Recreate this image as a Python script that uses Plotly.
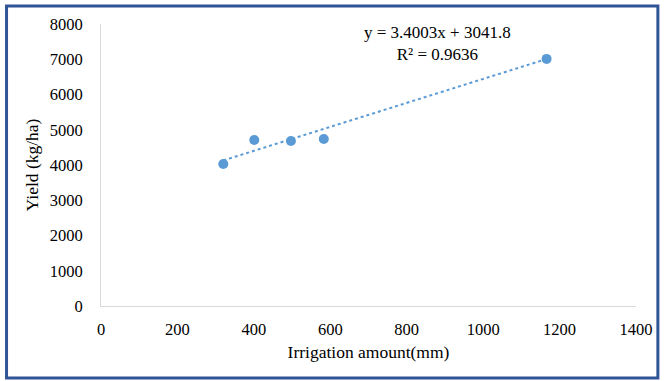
import plotly.graph_objects as go
import numpy as np

irrigation_mm = [320, 401, 497, 583, 1166]
yield_kg_ha = [4030, 4710, 4680, 4740, 7010]
slope = 3.4003
intercept = 3041.8
r_squared = 0.9636

x_ticks = [0, 200, 400, 600, 800, 1000, 1200, 1400]
y_ticks = [0, 1000, 2000, 3000, 4000, 5000, 6000, 7000, 8000]

FONT = "Liberation Serif"
BLUE = "#5B9BD5"
tick_font = dict(family=FONT, size=16.5, color="#000000")

fig = go.Figure()

trend_x = np.array([min(irrigation_mm), max(irrigation_mm)])
trend_y = slope * trend_x + intercept
fig.add_trace(go.Scatter(
    x=trend_x, y=trend_y, mode="lines",
    line=dict(color=BLUE, width=2, dash="dot"),
    hoverinfo="skip", showlegend=False,
))
fig.add_trace(go.Scatter(
    x=irrigation_mm, y=yield_kg_ha, mode="markers",
    marker=dict(color=BLUE, size=10),
    showlegend=False,
))

fig.add_annotation(
    x=880, y=7447, xref="x", yref="y",
    text=f"y = {slope:.4f}x + {intercept:.1f}<br>R² = {r_squared:.4f}",
    showarrow=False, align="center",
    font=dict(family=FONT, size=17, color="#000000"),
)

W, H = 665, 381
ml, mr, mt, mb = 101, 26, 24, 75
pw, ph = W - ml - mr, H - mt - mb

def px_to_paper_x(px):
    return (px - ml) / pw

def px_to_paper_y(py):
    return (H - mb - py) / ph

fig.add_shape(
    type="rect", xref="paper", yref="paper",
    x0=px_to_paper_x(6), x1=px_to_paper_x(661),
    y0=px_to_paper_y(378), y1=px_to_paper_y(6),
    line=dict(color="#2F5597", width=3),
    layer="below",
)

fig.update_layout(
    width=W, height=H,
    margin=dict(l=ml, r=mr, t=mt, b=mb, pad=0),
    paper_bgcolor="white", plot_bgcolor="white",
    font=dict(family=FONT, size=16, color="#000000"),
    xaxis=dict(
        range=[0, 1400], tickvals=x_ticks, ticktext=[str(v) for v in x_ticks],
        showgrid=False, zeroline=False, showline=True, linecolor="#D9D9D9",
        linewidth=1, ticks="", ticklabelstandoff=8, tickfont=tick_font,
        title=dict(text="Irrigation amount(mm)", standoff=7,
                   font=dict(family=FONT, size=17.5)),
    ),
    yaxis=dict(
        range=[0, 8000], tickvals=y_ticks, ticktext=[str(v) for v in y_ticks],
        showgrid=False, zeroline=False, showline=True, linecolor="#D9D9D9",
        linewidth=1, ticks="", ticklabelstandoff=14, tickfont=tick_font,
        title=dict(text="Yield (kg/ha)", standoff=6,
                   font=dict(family=FONT, size=17.5)),
    ),
)

fig.write_html(
    "out.html",
    config={"displayModeBar": False},
    post_script="document.body.style.margin='0';document.body.style.overflow='hidden';",
)
